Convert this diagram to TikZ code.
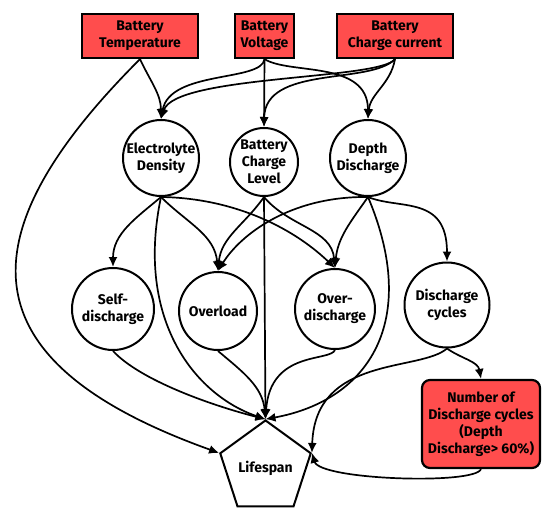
\documentclass[tikz,border=0pt]{standalone}
\usepackage{fontspec}
\setmainfont{Fira Sans}
\usetikzlibrary{arrows.meta,shapes.geometric}
\definecolor{boxRed}{RGB}{255,77,77}

\begin{document}
\begin{tikzpicture}[x=1pt, y=-1pt,
	    font=\bfseries\fontsize{14}{17}\selectfont,
	    input/.style={rectangle, draw=black, fill=boxRed, line width=2.2pt, align=center, minimum height=44pt, inner sep=2pt},
	    factor/.style={circle, draw=black, line width=2pt, align=center, inner sep=0pt},
	    line/.style={draw, line width=1.7pt, -{Latex[length=10pt,width=9pt]}}]
	    
	    \useasboundingbox (0,0) rectangle (550,512);
	    
	    % inputs
	    \node [input, minimum width=116pt] (temp) at (140,36) {Battery\\Temperature};
	    \node [input, minimum width=59pt] (volt) at (264.5,36) {Battery\\Voltage};
	    \node [input, minimum width=116pt] (curr) at (395,36) {Battery\\Charge current};
	    
	    % first level
	    \node [factor, minimum size=76pt] (elec) at (161,158) {Electrolyte\\Density};
	    \node [factor, minimum size=68pt] (level) at (264,162) {Battery\\Charge\\Level};
	    \node [factor, minimum size=76pt] (depth) at (368,158) {Depth\\Discharge};
	    
	    % second level
	    \node [factor, minimum size=82pt] (self) at (113,309) {Self-\\discharge};
	    \node [factor, minimum size=78pt] (over) at (218,311) {Overload};
	    \node [factor, minimum size=80pt] (odis) at (335,309) {Over-\\discharge};
	    \node [factor, minimum size=85pt] (cyc) at (447,305) {Discharge\\cycles};
	    
	    \node [input, rounded corners=8pt, minimum width=118pt, minimum height=88pt] (num) at (481,424) {Number of\\Discharge cycles\\(Depth\\Discharge> 60\%)};
	    \node [regular polygon, regular polygon sides=5, draw, line width=2pt, minimum size=78pt, inner sep=0pt] (life) at (265.5,468) {Lifespan};
	    
	    % inputs to first level
	    \path [line] (temp.south) to[out=-65, in=90] (elec.north);
	    \path [line] (volt.south) .. controls (262,82) and (170,70) .. (elec.north);
	    \path [line] (curr.south) .. controls (380,80) and (175,75) .. (elec.north);
	    \path [line] (volt.south) -- (level.north);
	    \path [line] (curr.south) .. controls (370,85) and (265,65) .. (level.north);
	    \path [line] (volt.south) .. controls (290,75) and (368,60) .. (depth.north);
	    \path [line] (curr.south) to[out=-100, in=85] (depth.north);
	    
	    % first level to second level
	    \path [line] (elec.south) to[out=-140, in=90] (self.north);
	    \path [line] (elec.south) to[out=-45, in=95] (over.north);
	    \path [line] (elec.south) .. controls (230,198) and (290,225) .. (odis.north);
	    \path [line] (level.south) to[out=-125, in=85] (over.north);
	    \path [line] (level.south) to[out=-50, in=95] (odis.north);
	    \path [line] (depth.south) .. controls (290,196) and (240,235) .. (over.north);
	    \path [line] (depth.south) to[out=-125, in=85] (odis.north);
	    \path [line] (depth.south) .. controls (400,210) and (447,195) .. (cyc.north);
	    \path [line] (cyc.south) to[out=-35, in=100] (num.north);
	    
	    % everything to lifespan
	    \path [line] (temp.south) .. controls (-37,236) and (-35,362) .. (life.corner 2);
	    \path [line] (elec.south) .. controls (135,320) and (195,395) .. (life.corner 1);
	    \path [line] (level.south) -- (life.corner 1);
	    \path [line] (depth.south) .. controls (420,320) and (370,400) .. (life.corner 1);
	    \path [line] (self.south) .. controls (140,380) and (210,405) .. (life.corner 1);
	    \path [line] (over.south) to[out=-40, in=95] (life.corner 1);
	    \path [line] (odis.south) .. controls (330,362) and (270,350) .. (life.corner 1);
	    \path [line] (cyc.south) .. controls (420,372) and (315,355) .. (life.corner 5);
	    \path [line] (num.south) .. controls (475,485) and (320,480) .. (life.corner 5);
	\end{tikzpicture}
\end{document}
